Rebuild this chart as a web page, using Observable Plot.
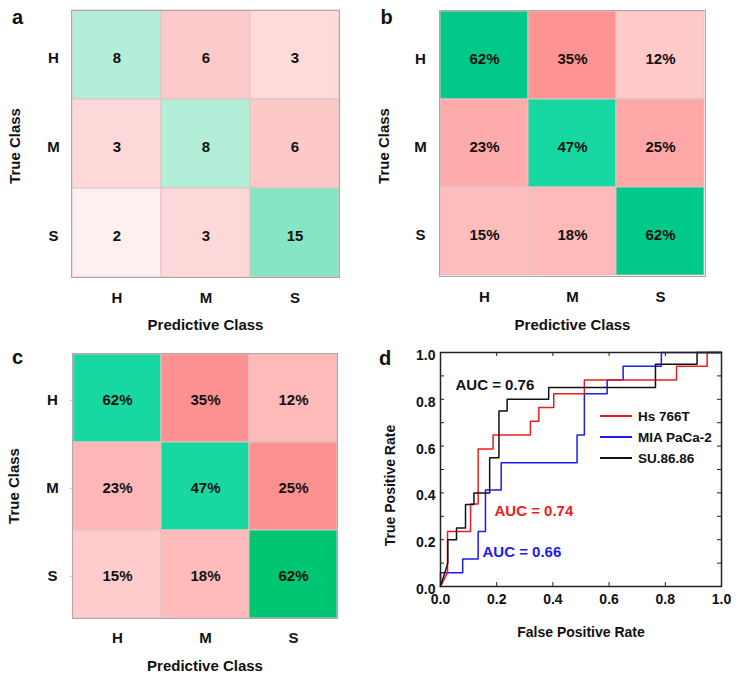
<!DOCTYPE html>
<html><head><meta charset="utf-8">
<script src="https://cdn.jsdelivr.net/npm/d3@7"></script>
<script src="https://cdn.jsdelivr.net/npm/@observablehq/plot@0.6"></script>
<style>
body{margin:0;background:#fff;}
#fig{position:relative;width:745px;height:680px;overflow:hidden;font-family:"Liberation Sans",Arial,sans-serif;}
.panel{position:absolute;}
</style></head><body><div id="fig"></div>
<script>
// ---------- data ----------
const classes = ["H", "M", "S"];
const countsA = [[8, 6, 3], [3, 8, 6], [2, 3, 15]];
const percentB = [[62, 35, 12], [23, 47, 25], [15, 18, 62]];
const percentC = [[62, 35, 12], [23, 47, 25], [15, 18, 62]];

const seriesNames = ["Hs 766T", "MIA PaCa-2", "SU.86.86"];
const aucValues = [0.74, 0.66, 0.76];
const hsFpr = [0, 0.025, 0.025, 0.107, 0.107, 0.134, 0.134, 0.187, 0.187, 0.32, 0.32, 0.35, 0.35, 0.403, 0.403, 0.512, 0.512, 0.84, 0.84, 0.949, 0.949, 1];
const hsTpr = [0, 0.059, 0.235, 0.235, 0.353, 0.353, 0.588, 0.588, 0.647, 0.647, 0.706, 0.706, 0.765, 0.765, 0.824, 0.824, 0.882, 0.882, 0.941, 0.941, 1, 1];
const miaFpr = [0, 0, 0.079, 0.079, 0.134, 0.134, 0.16, 0.16, 0.216, 0.216, 0.486, 0.486, 0.512, 0.512, 0.593, 0.593, 0.65, 0.65, 0.786, 0.786, 1];
const miaTpr = [0, 0.059, 0.059, 0.118, 0.118, 0.235, 0.235, 0.412, 0.412, 0.529, 0.529, 0.647, 0.647, 0.824, 0.824, 0.882, 0.882, 0.941, 0.941, 1, 1];
const suFpr = [0, 0.026, 0.026, 0.057, 0.057, 0.089, 0.089, 0.119, 0.119, 0.175, 0.175, 0.208, 0.208, 0.237, 0.237, 0.385, 0.385, 0.765, 0.765, 0.913, 0.913, 1];
const suTpr = [0, 0.1, 0.2, 0.2, 0.25, 0.25, 0.35, 0.35, 0.4, 0.4, 0.55, 0.55, 0.75, 0.75, 0.8, 0.8, 0.85, 0.85, 0.95, 0.95, 1, 1];

const rateTicks = [0, 0.2, 0.4, 0.6, 0.8, 1.0];
const minorTicks = [0, 0.1, 0.2, 0.3, 0.4, 0.5, 0.6, 0.7, 0.8, 0.9, 1.0];

// ---------- styles ----------
const FONT = '"Liberation Sans", Arial, sans-serif';
const INK = "#111";
const paletteA = ["#b2eed8", "#fdcaca", "#fedada", "#fdd8d8", "#b2eed8", "#fdc8c8", "#fef0f0", "#fdd8d8", "#86e5c2"];
const paletteB = ["#00c98a", "#fd9393", "#fec9c9", "#fdabab", "#17d8a0", "#fda7a7", "#febdbd", "#feb9b9", "#00c98a"];
const paletteC = ["#17d8a0", "#fd9191", "#feb9b9", "#feb7b7", "#17d8a0", "#fd9191", "#fecccc", "#febbbb", "#00c573"];
const seriesColors = ["#f01c1c", "#1c1cf0", "#111111"];

const fig = document.getElementById("fig");
function place(node, left, top) {
  const d = document.createElement("div");
  d.className = "panel";
  d.style.left = left + "px";
  d.style.top = top + "px";
  d.appendChild(node);
  fig.appendChild(d);
}

function cellRows(matrix, fmt) {
  const out = [];
  classes.forEach((t, i) => classes.forEach((p, j) =>
    out.push({truth: t, pred: p, key: t + p, value: matrix[i][j], label: fmt(matrix[i][j])})));
  return out;
}

const labelStyle = {fontWeight: "bold", fill: INK, textAnchor: "middle", lineAnchor: "middle"};

function confusion({matrix, fmt, palette, letter, width, m, textDy, rowPad, colPad, rowTick, xLabelDy, yLabelDx, yLabelDy, letterDx, letterDy}) {
  const rows = cellRows(matrix, fmt);
  return Plot.plot({
    width, height: 340,
    marginLeft: m[0], marginRight: m[1], marginTop: m[2], marginBottom: m[3],
    x: {domain: classes, padding: 0},
    y: {domain: classes, padding: 0},
    color: {type: "ordinal", domain: rows.map(d => d.key), range: palette},
    style: {fontFamily: FONT, background: "transparent", overflow: "visible"},
    marks: [
      Plot.cell(rows, {x: "pred", y: "truth", fill: "key", stroke: "#dcc5c5", strokeWidth: 1}),
      Plot.frame({stroke: "#b5a5a5", strokeWidth: 1}),
      Plot.text(rows, {x: "pred", y: "truth", text: "label", fontWeight: "bold", fontSize: 15, fill: INK, dy: textDy}),
      Plot.axisX({tickSize: 0, tickPadding: colPad, fontWeight: "bold", fontSize: 15, fill: INK, label: null}),
      Plot.axisY({tickSize: rowTick, stroke: "#d8d8d8", tickPadding: rowPad - rowTick, textAnchor: "middle", fontWeight: "bold", fontSize: 15, fill: INK, label: null, dy: textDy}),
      Plot.text(["Predictive Class"], {...labelStyle, frameAnchor: "bottom", dy: xLabelDy, fontSize: 15}),
      Plot.text(["True Class"], {...labelStyle, frameAnchor: "left", dx: yLabelDx, dy: yLabelDy, rotate: -90, fontSize: 15}),
      Plot.text([letter], {...labelStyle, frameAnchor: "top-left", dx: letterDx, dy: letterDy, fontSize: 20})
    ]
  });
}

place(confusion({matrix: countsA, fmt: String, palette: paletteA, letter: "a", width: 372,
  m: [71, 33, 10, 63], textDy: 3, rowPad: 18, colPad: 14.6, rowTick: 0,
  xLabelDy: 48, yLabelDx: -56, yLabelDy: 2, letterDx: -54, letterDy: 7}), 0, 0);

place(confusion({matrix: percentB, fmt: v => v + "%", palette: paletteB, letter: "b", width: 373,
  m: [67, 40, 10, 64], textDy: 4, rowPad: 19, colPad: 14.6, rowTick: 0,
  xLabelDy: 49, yLabelDx: -55, yLabelDy: 2.5, letterDx: -53, letterDy: 7}), 372, 0);

place(confusion({matrix: percentC, fmt: v => v + "%", palette: paletteC, letter: "c", width: 372,
  m: [72, 35, 13, 62], textDy: 2, rowPad: 20, colPad: 14, rowTick: 3,
  xLabelDy: 48, yLabelDx: -58, yLabelDy: 0, letterDx: -55, letterDy: 4}), 0, 340);

// ---------- panel d : ROC ----------
const rocSets = [[hsFpr, hsTpr], [miaFpr, miaTpr], [suFpr, suTpr]];
const rocRows = [];
[1, 0, 2].forEach(k => rocSets[k][0].forEach((x, i) =>
  rocRows.push({series: seriesNames[k], fpr: x, tpr: rocSets[k][1][i]})));

const innerW = 373 - 68 - 24, innerH = 340 - 12 - 94, tickLen = 4;
const aucPos = [[54, 159], [42, 200], [15, 33]];

const rocPlot = Plot.plot({
  width: 373, height: 340,
  marginLeft: 68, marginRight: 24, marginTop: 12, marginBottom: 94,
  x: {domain: [0, 1]},
  y: {domain: [0, 1]},
  color: {type: "ordinal", domain: seriesNames, range: seriesColors},
  style: {fontFamily: FONT, background: "transparent", overflow: "visible"},
  marks: [
    Plot.tickY(minorTicks, {y: d => d, insetRight: innerW - tickLen, stroke: "#222"}),
    Plot.tickY(minorTicks, {y: d => d, insetLeft: innerW - tickLen, stroke: "#222"}),
    Plot.tickX(rateTicks, {x: d => d, insetBottom: innerH - tickLen, stroke: "#222"}),
    Plot.tickX(rateTicks, {x: d => d, insetTop: innerH - tickLen, stroke: "#222"}),
    Plot.line(rocRows, {x: "fpr", y: "tpr", z: "series", stroke: "series", strokeWidth: 1.5}),
    Plot.frame({stroke: "#222", strokeWidth: 1.5}),
    Plot.axisX({ticks: rateTicks, tickFormat: ".1f", tickSize: 0, tickPadding: 8, fontWeight: "bold", fontSize: 14, fill: INK, label: null}),
    Plot.axisY({ticks: rateTicks, tickFormat: ".1f", tickSize: 0, tickPadding: 5, dy: 3, fontWeight: "bold", fontSize: 14, fill: INK, label: null}),
    Plot.text(["False Positive Rate"], {...labelStyle, frameAnchor: "bottom", dy: 46, fontSize: 14}),
    Plot.text(["True Positive Rate"], {...labelStyle, frameAnchor: "left", dx: -50, dy: 16, rotate: -90, fontSize: 14}),
    Plot.text(["d"], {...labelStyle, frameAnchor: "top-left", dx: -55.5, dy: 6.5, fontSize: 20}),
    ...seriesNames.map((s, k) => Plot.text([`AUC = ${aucValues[k].toFixed(2)}`], {
      frameAnchor: "top-left", dx: aucPos[k][0], dy: aucPos[k][1], textAnchor: "start", lineAnchor: "middle",
      fontWeight: "bold", fontSize: 15, fill: seriesColors[k]}))
  ]
});

// legend inside the frame
const lg = d3.select(rocPlot).append("g").attr("transform", "translate(228,76)")
  .attr("font-family", FONT).attr("font-weight", "bold").attr("font-size", 13.5)
  .attr("text-anchor", "start");
seriesNames.forEach((s, k) => {
  const g = lg.append("g").attr("transform", `translate(0,${k * 21})`);
  g.append("line").attr("x1", 0).attr("x2", 32).attr("stroke", seriesColors[k]).attr("stroke-width", 2);
  g.append("text").attr("x", 38).attr("dy", "0.35em").attr("fill", INK).text(s);
});
place(rocPlot, 372, 340);
</script></body></html>
